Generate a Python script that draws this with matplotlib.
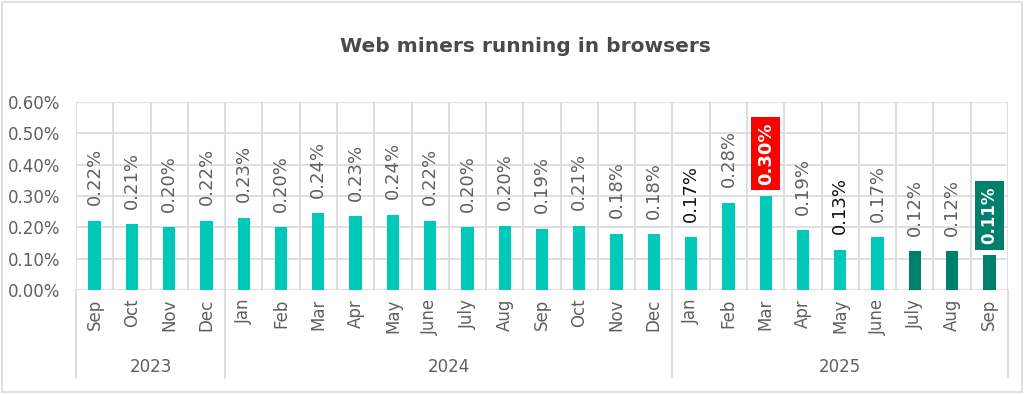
import matplotlib
matplotlib.use("Agg")
import matplotlib.pyplot as plt
from matplotlib.patches import Rectangle
from matplotlib.lines import Line2D

months = ["Sep", "Oct", "Nov", "Dec",
          "Jan", "Feb", "Mar", "Apr", "May", "June", "July", "Aug", "Sep", "Oct", "Nov", "Dec",
          "Jan", "Feb", "Mar", "Apr", "May", "June", "July", "Aug", "Sep"]
values = [0.22, 0.21, 0.20, 0.22,
          0.23, 0.20, 0.245, 0.235, 0.24, 0.22, 0.20, 0.205, 0.195, 0.205, 0.18, 0.178,
          0.168, 0.278, 0.30, 0.19, 0.128, 0.168, 0.123, 0.123, 0.112]
labels = ["0.22%", "0.21%", "0.20%", "0.22%",
          "0.23%", "0.20%", "0.24%", "0.23%", "0.24%", "0.22%", "0.20%", "0.20%", "0.19%", "0.21%", "0.18%", "0.18%",
          "0.17%", "0.28%", "0.30%", "0.19%", "0.13%", "0.17%", "0.12%", "0.12%", "0.11%"]
years = ["2023", "2024", "2025"]
year_counts = [4, 12, 9]
yticks = [0.0, 0.1, 0.2, 0.3, 0.4, 0.5, 0.6]

TEAL = "#00C9BA"
DARK = "#00806A"
RED = "#FF0000"
GRAY = "#5F5F5F"
GRID = "#D9D9D9"

bar_colors = [TEAL] * 22 + [DARK] * 3
label_colors = [GRAY] * 25
label_colors[16] = "#111111"
label_colors[20] = "#111111"

plt.rcParams['font.family'] = ['DejaVu Sans']

fig = plt.figure(figsize=(10.24, 3.94), dpi=100)
ax = fig.add_axes([76/1024, 1-290/394, (1008-76)/1024, (290-102)/394])

n = len(values)
x = list(range(n))
ax.bar(x, values, width=0.33, color=bar_colors, zorder=3)
ax.set_xlim(-0.5, n-0.5)
ax.set_ylim(0, 0.6)
ax.set_yticks(yticks)
ax.set_yticklabels([f"{v:.2f}%" for v in yticks], color=GRAY, fontsize=12)
ax.set_xticks([])
for s in ax.spines.values():
    s.set_visible(False)
ax.tick_params(axis='y', length=0, pad=11.5)
for v in yticks:
    ax.axhline(v, color=GRID, lw=1.2, zorder=1)
for i in range(n+1):
    ax.axvline(i-0.5, color=GRID, lw=1.2, zorder=1)

for i, (v, lab) in enumerate(zip(values, labels)):
    if i == 18:
        ax.text(i, v + 0.035, lab, rotation=90, ha='center', va='bottom', fontsize=13,
                color='white', fontweight='bold', zorder=5,
                bbox=dict(boxstyle='square,pad=0.3', fc=RED, ec='none'))
    elif i == 24:
        ax.text(i, v + 0.035, lab, rotation=90, ha='center', va='bottom', fontsize=12,
                color='white', fontweight='bold', zorder=5,
                bbox=dict(boxstyle='square,pad=0.35', fc=DARK, ec='none'))
    else:
        ax.text(i, v + 0.05, lab, rotation=90, ha='center', va='bottom', fontsize=13,
                color=label_colors[i], zorder=5)

# month labels
for i, m in enumerate(months):
    ax.text(i, -0.028, m, rotation=90, ha='center', va='top', fontsize=12,
            color=GRAY, transform=ax.transData, clip_on=False)

# year separators and labels
trans = ax.get_xaxis_transform()
bottom_frac = -(378-290)/(290-102)
start = 0
bounds = [0]
for c in year_counts:
    start += c
    bounds.append(start)
for b in bounds:
    ax.add_line(Line2D([b-0.5, b-0.5], [0, bottom_frac], transform=trans, color=GRID,
                       lw=1.2, clip_on=False))
for yname, b0, b1 in zip(years, bounds[:-1], bounds[1:]):
    ax.text((b0 + b1 - 1)/2, -(367-290)/(290-102), yname, transform=trans, ha='center',
            va='center', fontsize=12, color=GRAY, clip_on=False)

fig.text(525/1024, 1-47/394, "Web miners running in browsers", ha='center', va='center',
         fontsize=14.5, fontweight='bold', color="#4A4A4A")

fig.add_artist(Rectangle((2/1024, 2/394), 1020/1024, 390/394, transform=fig.transFigure,
                         fill=False, ec=GRID, lw=1.2))

fig.savefig("out.png", dpi=100, facecolor='white')
